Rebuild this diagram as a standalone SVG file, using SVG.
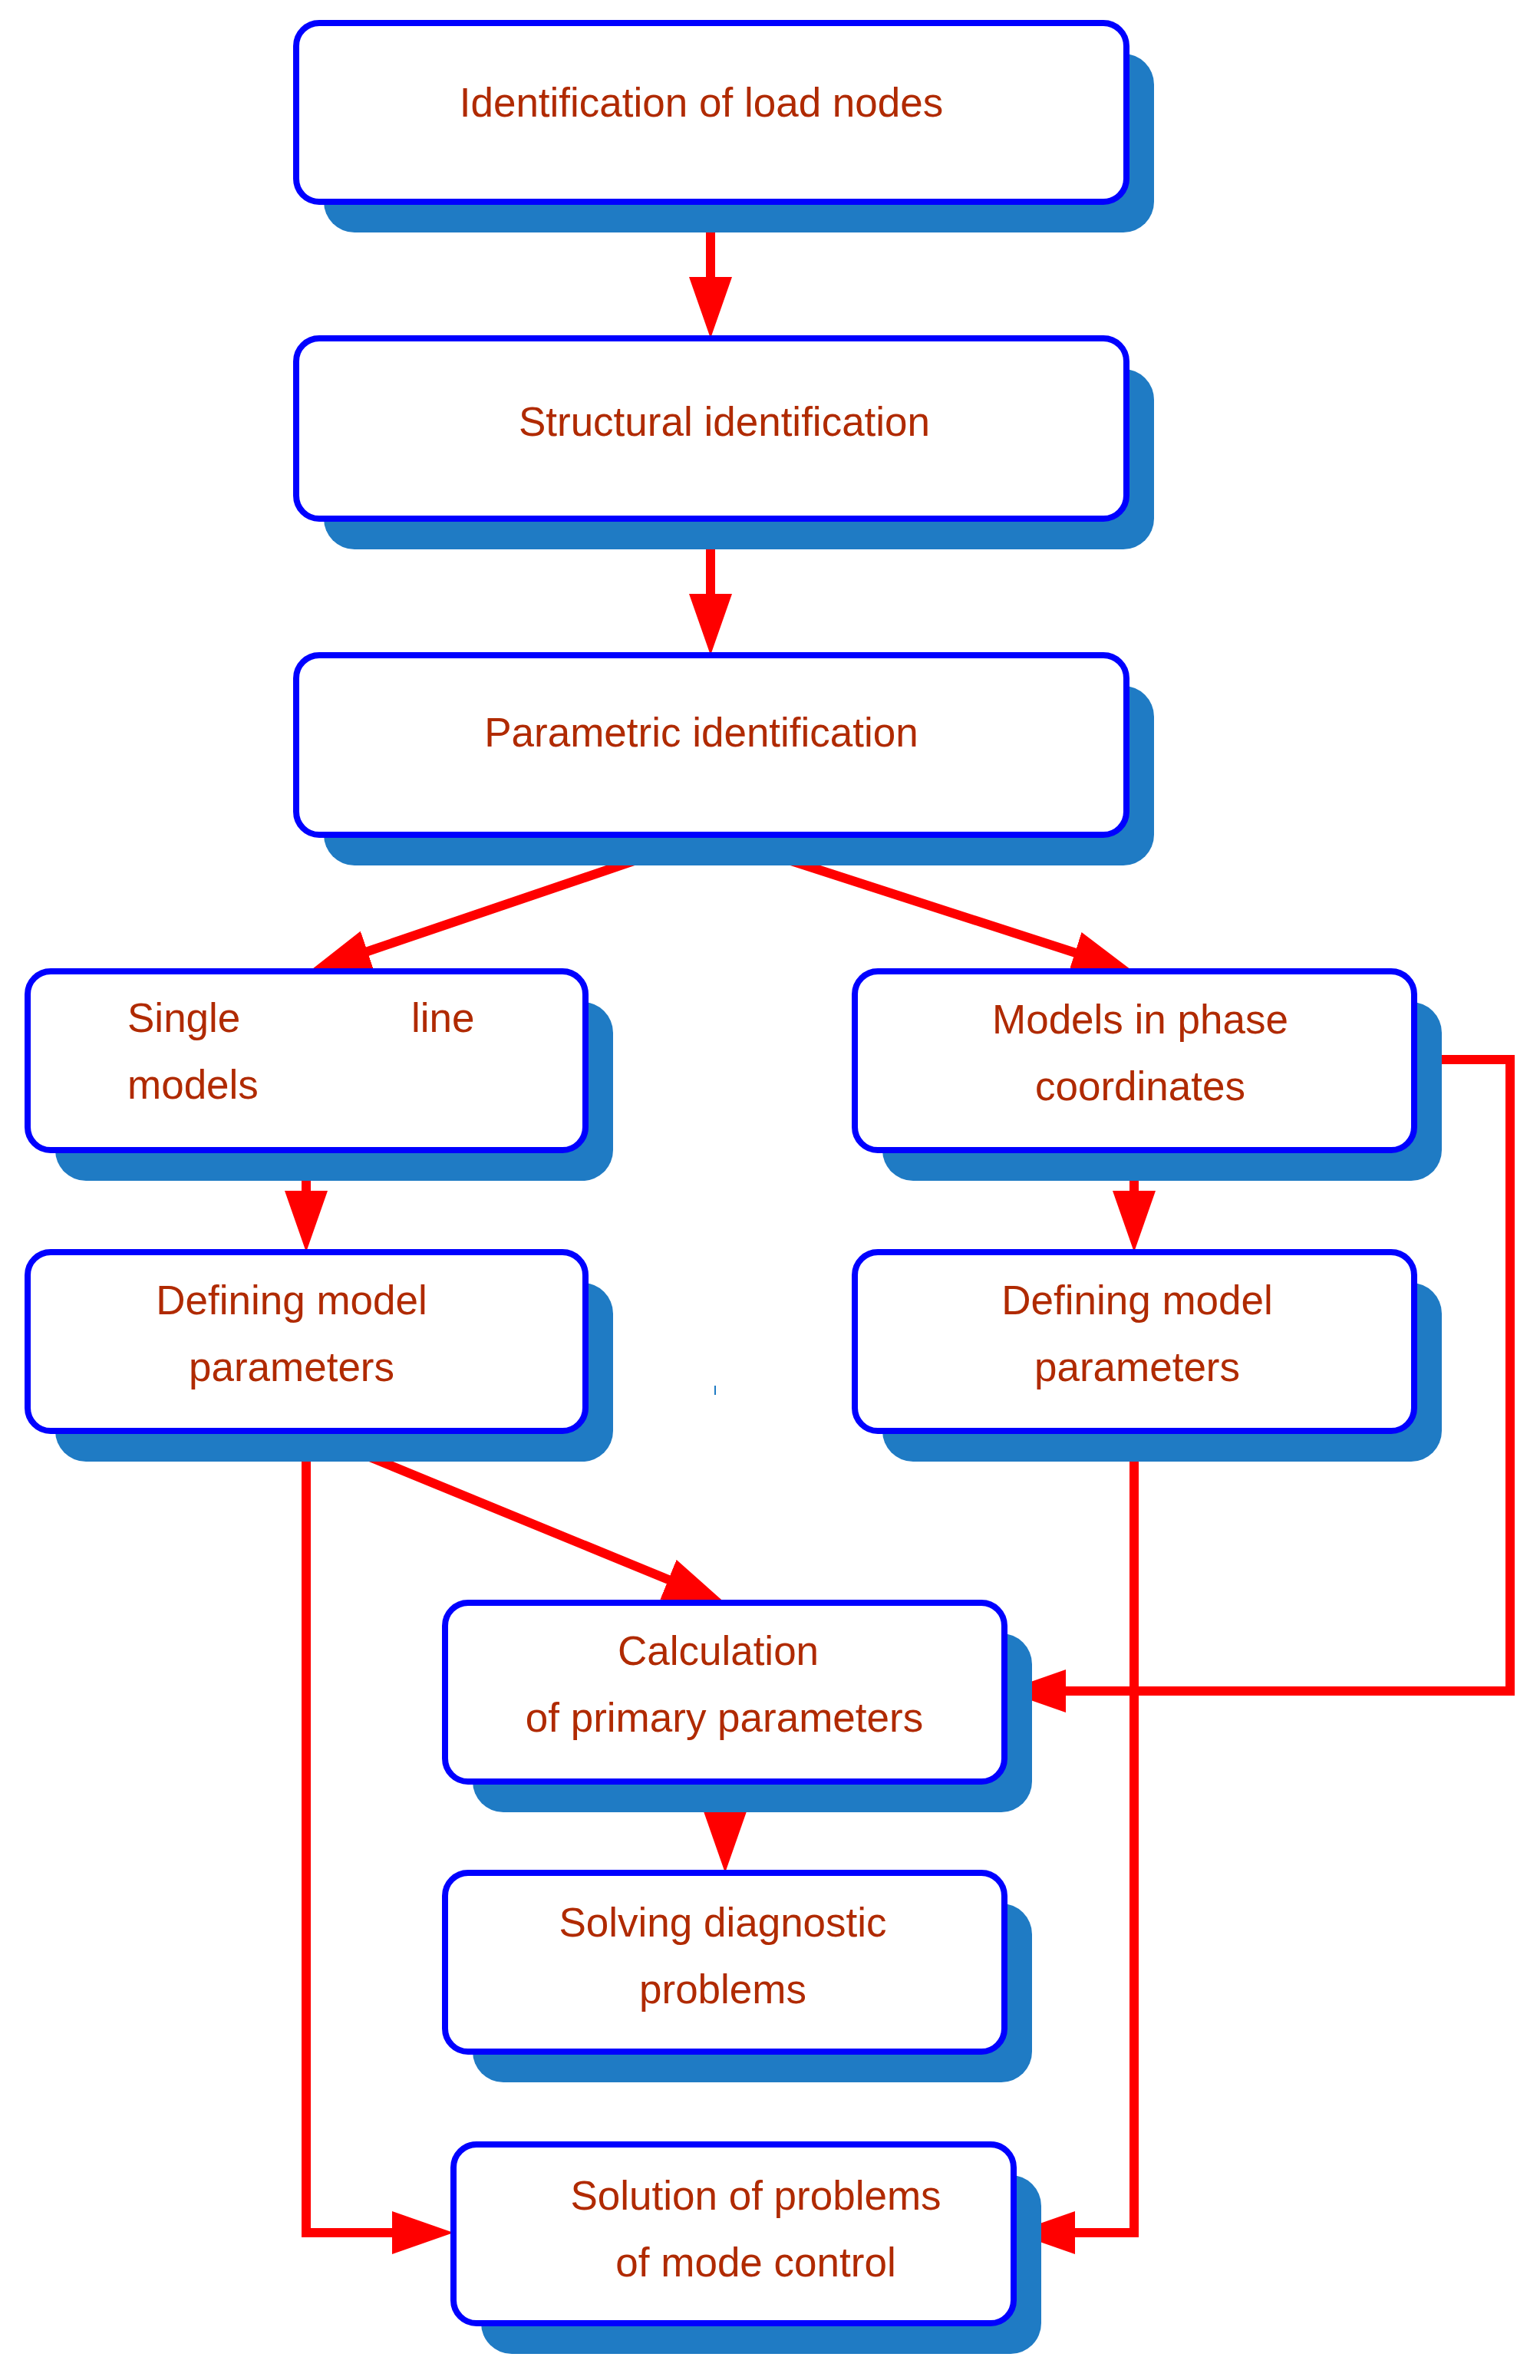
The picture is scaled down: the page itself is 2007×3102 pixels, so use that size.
<svg xmlns="http://www.w3.org/2000/svg" width="2007" height="3102" viewBox="0 0 2007 3102">
<style>
.sh{fill:#1f7bc4}
.bx{fill:#fff;stroke:#0000ff;stroke-width:8}
.t{font-family:"Liberation Sans",Arial,sans-serif;font-size:53px;fill:#b02a00}
.c{text-anchor:middle}
.ln{fill:none;stroke:#ff0000;stroke-width:12;stroke-linejoin:miter}
</style>
<defs>
<marker id="ah" markerUnits="userSpaceOnUse" markerWidth="80" markerHeight="56" refX="40" refY="28" orient="auto" viewBox="0 0 80 56">
<path d="M0,0 L80,28 L0,56 z" fill="#ff0000"/>
</marker>
</defs>
<rect width="2007" height="3102" fill="#fff"/>
<g id="connectors">
<path class="ln" d="M926,263 V401" marker-end="url(#ah)"/>
<path class="ln" d="M926,676 V814" marker-end="url(#ah)"/>
<path class="ln" d="M926,1088 L441,1253" marker-end="url(#ah)"/>
<path class="ln" d="M926,1088 L1439,1254" marker-end="url(#ah)"/>
<path class="ln" d="M399,1499 V1592" marker-end="url(#ah)"/>
<path class="ln" d="M1478,1499 V1592" marker-end="url(#ah)"/>
<path class="ln" d="M399,1865 L908,2074" marker-end="url(#ah)"/>
<path class="ln" d="M1840,1381 H1968 V2204 H1349" marker-end="url(#ah)"/>
<path class="ln" d="M945,2322 V2401" marker-end="url(#ah)"/>
<path class="ln" d="M399,1865 V2910 H551" marker-end="url(#ah)"/>
<path class="ln" d="M1478,1865 V2910 H1361" marker-end="url(#ah)"/>
</g>
<g id="n1"><rect class="sh" x="422" y="70" width="1082" height="233" rx="40"/><rect class="bx" x="386" y="30" width="1082" height="233" rx="30"/><text class="t c" x="914" y="152">Identification of load nodes</text></g>
<g id="n2"><rect class="sh" x="422" y="481" width="1082" height="235" rx="40"/><rect class="bx" x="386" y="441" width="1082" height="235" rx="30"/><text class="t c" x="944" y="568">Structural identification</text></g>
<g id="n3"><rect class="sh" x="422" y="894" width="1082" height="234" rx="40"/><rect class="bx" x="386" y="854" width="1082" height="234" rx="30"/><text class="t c" x="914" y="973">Parametric identification</text></g>
<g id="n4"><rect class="sh" x="72" y="1306" width="727" height="233" rx="40"/><rect class="bx" x="36" y="1266" width="727" height="233" rx="30"/><text class="t" x="166" y="1345">Single</text><text class="t" x="536" y="1345">line</text><text class="t" x="166" y="1432">models</text></g>
<g id="n5"><rect class="sh" x="1150" y="1306" width="729" height="233" rx="40"/><rect class="bx" x="1114" y="1266" width="729" height="233" rx="30"/><text class="t c" x="1486" y="1347">Models in phase</text><text class="t c" x="1486" y="1434">coordinates</text></g>
<g id="n6"><rect class="sh" x="72" y="1672" width="727" height="233" rx="40"/><rect class="bx" x="36" y="1632" width="727" height="233" rx="30"/><text class="t c" x="380" y="1713">Defining model</text><text class="t c" x="380" y="1800">parameters</text></g>
<g id="n7"><rect class="sh" x="1150" y="1672" width="729" height="233" rx="40"/><rect class="bx" x="1114" y="1632" width="729" height="233" rx="30"/><text class="t c" x="1482" y="1713">Defining model</text><text class="t c" x="1482" y="1800">parameters</text></g>
<g id="n8"><rect class="sh" x="616" y="2129" width="729" height="233" rx="40"/><rect class="bx" x="580" y="2089" width="729" height="233" rx="30"/><text class="t c" x="936" y="2170">Calculation</text><text class="t c" x="944" y="2257">of primary parameters</text></g>
<g id="n9"><rect class="sh" x="616" y="2481" width="729" height="233" rx="40"/><rect class="bx" x="580" y="2441" width="729" height="233" rx="30"/><text class="t c" x="942" y="2524">Solving diagnostic</text><text class="t c" x="942" y="2611">problems</text></g>
<g id="n10"><rect class="sh" x="627" y="2835" width="730" height="233" rx="40"/><rect class="bx" x="591" y="2795" width="730" height="233" rx="30"/><text class="t c" x="985" y="2880">Solution of problems</text><text class="t c" x="985" y="2967">of mode control</text></g>
<path d="M932,1806 V1818" stroke="#1f7bc4" stroke-width="2"/>
</svg>
